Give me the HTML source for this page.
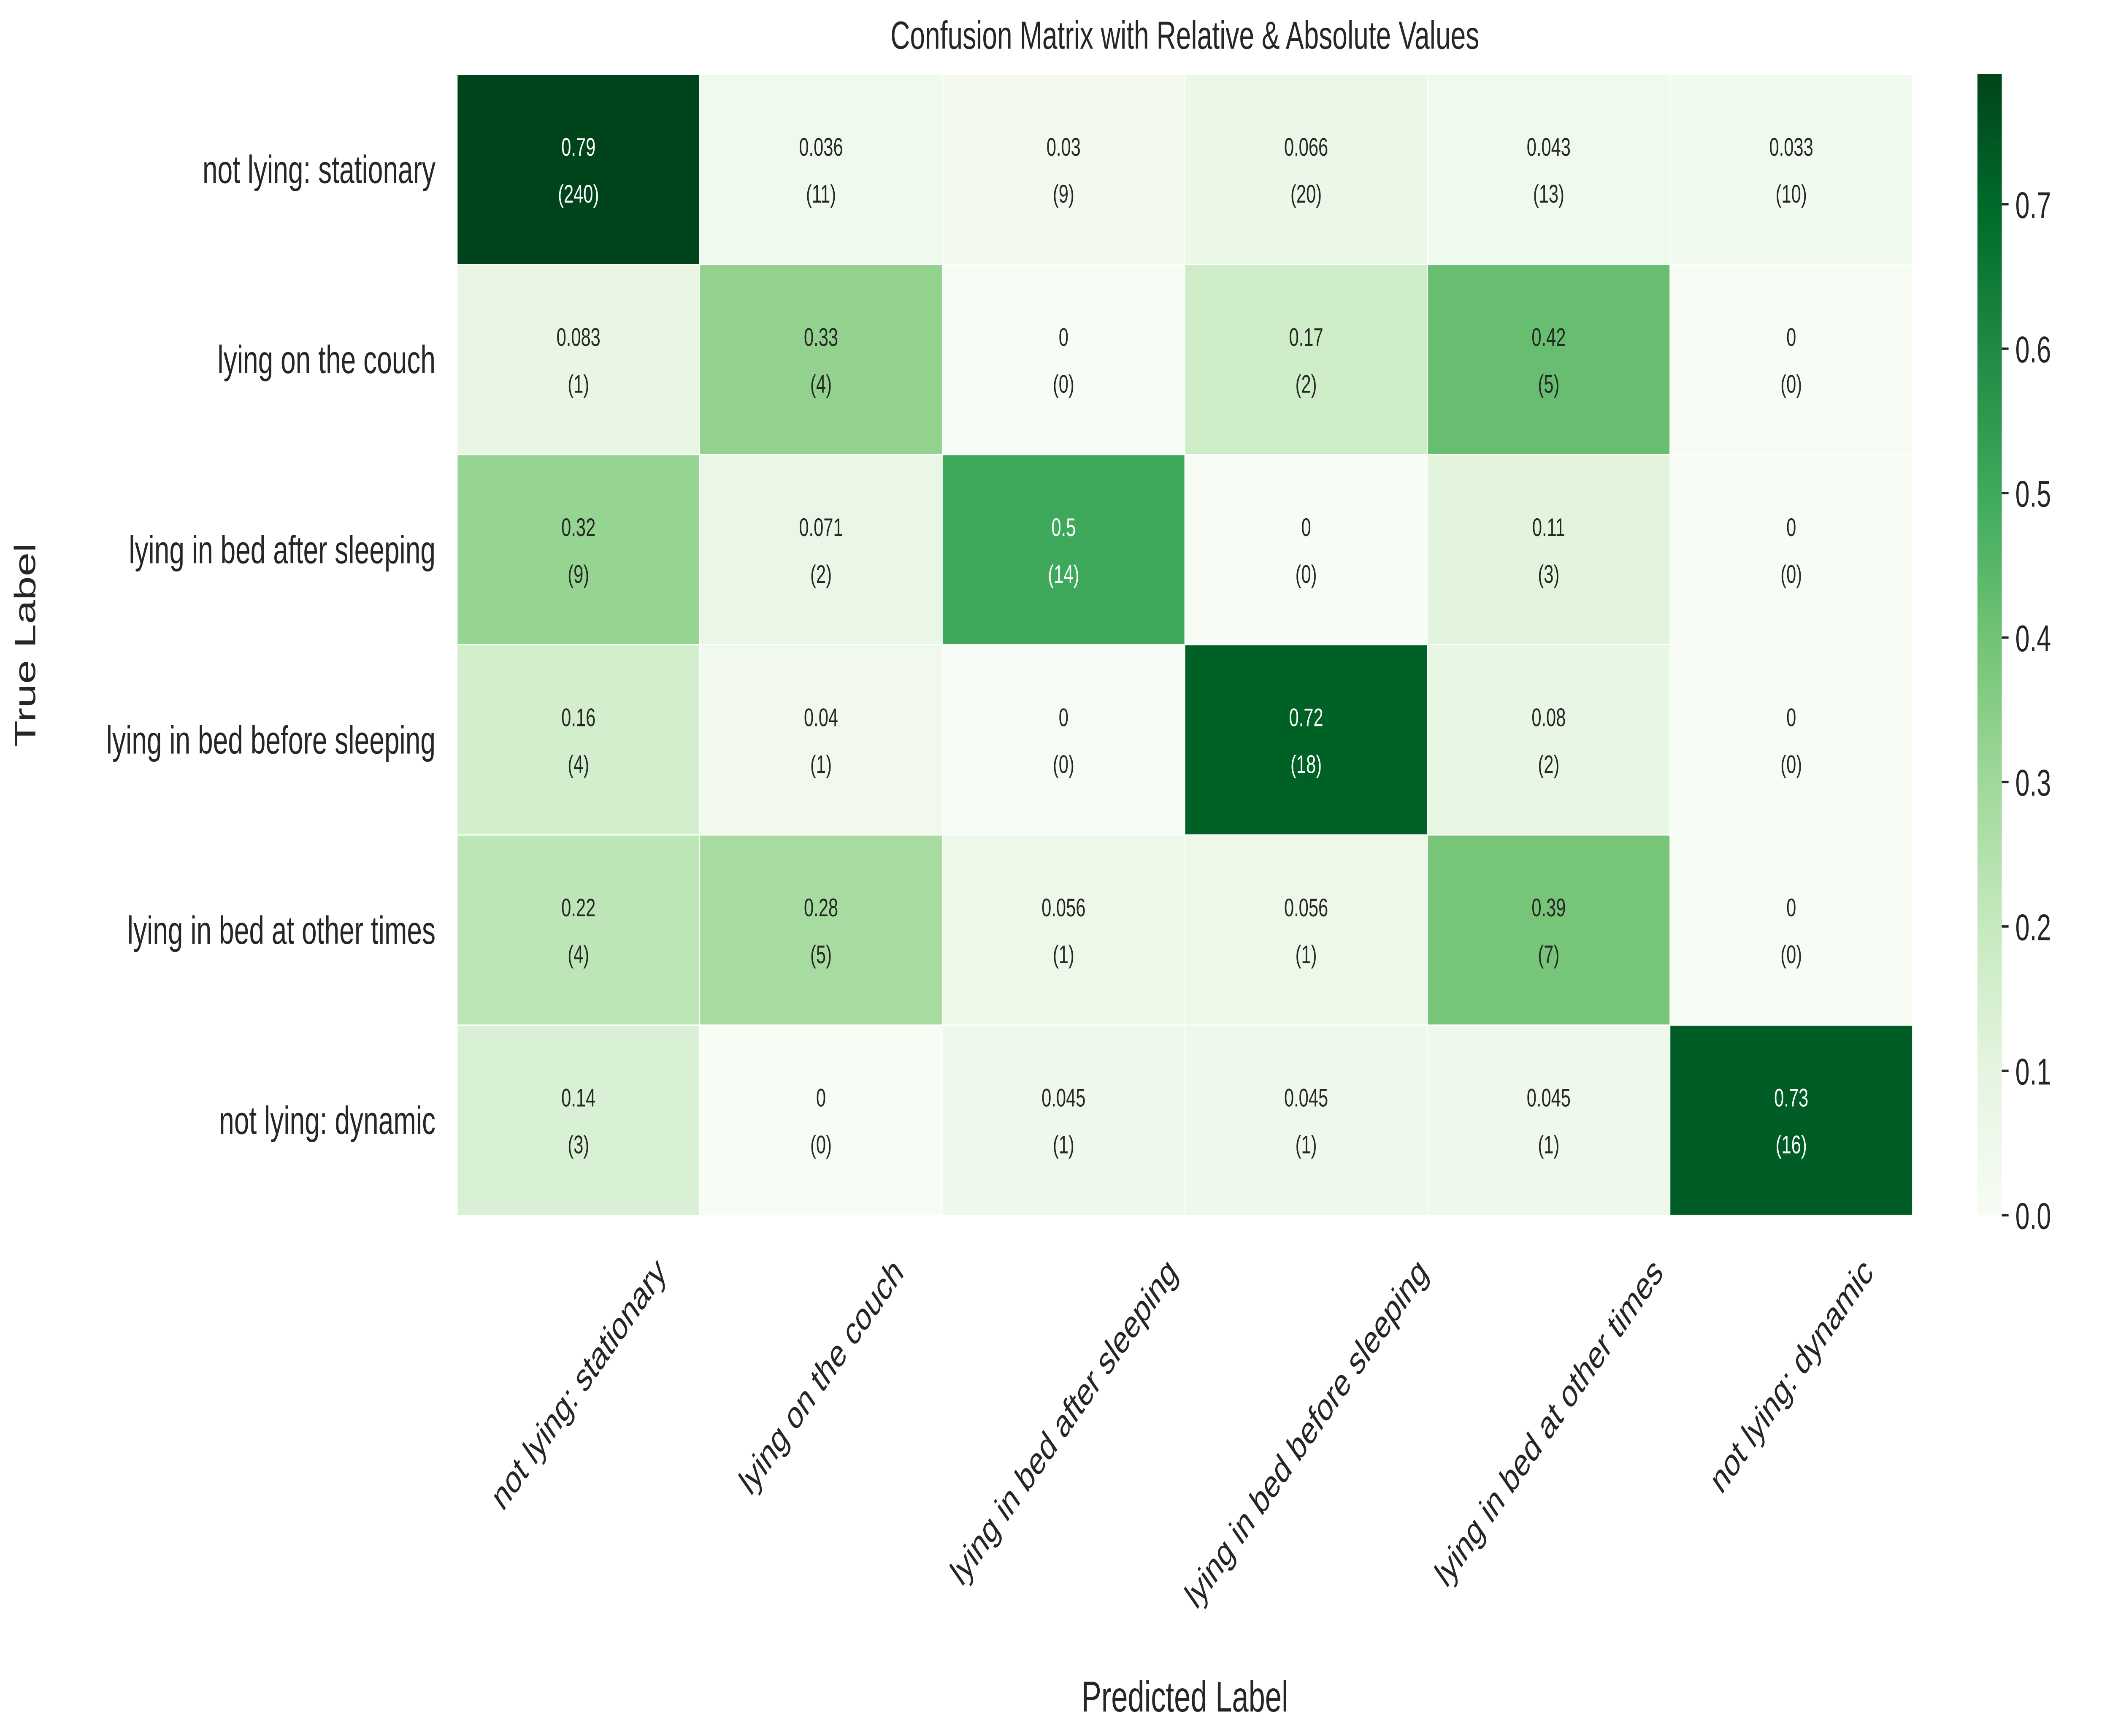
<!DOCTYPE html>
<html><head><meta charset="utf-8"><style>
html,body{margin:0;padding:0;background:#fff;width:100%;height:100%;overflow:hidden;}
svg{display:block;font-family:"Liberation Sans",Arial,sans-serif;position:absolute;left:0;top:0;width:100vw;height:100vh;}
</style></head><body>
<svg id="chart" viewBox="0 0 1560 888.5" preserveAspectRatio="none" xmlns="http://www.w3.org/2000/svg">
<defs><linearGradient id="cbgrad" x1="0" y1="1" x2="0" y2="0">
<stop offset="0" stop-color="#f7fcf5"/><stop offset="0.125" stop-color="#e5f5e0"/><stop offset="0.25" stop-color="#c7e9c0"/><stop offset="0.375" stop-color="#a1d99b"/><stop offset="0.5" stop-color="#74c476"/><stop offset="0.625" stop-color="#41ab5d"/><stop offset="0.75" stop-color="#238b45"/><stop offset="0.875" stop-color="#006d2c"/><stop offset="1" stop-color="#00441b"/></linearGradient></defs>
<text x="876" y="25" text-anchor="middle" font-size="20" fill="#262626">Confusion Matrix with Relative &amp; Absolute Values</text>
<g id="cells"></g>
<g id="ylabels"></g>
<g id="xlabels"></g>
<text transform="translate(26,330) rotate(-90)" text-anchor="middle" font-size="22" fill="#262626">True Label</text>
<text x="876" y="876" text-anchor="middle" font-size="22" fill="#262626">Predicted Label</text>
<rect x="1462" y="38" width="18" height="584" fill="url(#cbgrad)"/>
<g id="cbticks"></g>
</svg>
<script>
const categories = ["not lying: stationary","lying on the couch","lying in bed after sleeping","lying in bed before sleeping","lying in bed at other times","not lying: dynamic"];
const relValues = [
 [0.79,0.036,0.03,0.066,0.043,0.033],
 [0.083,0.33,0,0.17,0.42,0],
 [0.32,0.071,0.5,0,0.11,0],
 [0.16,0.04,0,0.72,0.08,0],
 [0.22,0.28,0.056,0.056,0.39,0],
 [0.14,0,0.045,0.045,0.045,0.73]];
const absValues = [
 [240,11,9,20,13,10],
 [1,4,0,2,5,0],
 [9,2,14,0,3,0],
 [4,1,0,18,2,0],
 [4,5,1,1,7,0],
 [3,0,1,1,1,16]];
const cbTicks = [0.0,0.1,0.2,0.3,0.4,0.5,0.6,0.7];

const NS="http://www.w3.org/2000/svg";
const X0=338,X1=1414,Y0=38,Y1=622;
let vmax=0; relValues.forEach(r=>r.forEach(v=>{if(v>vmax)vmax=v;}));
const cw=(X1-X0)/categories.length, ch=(Y1-Y0)/categories.length;
const xPos=i=>X0+i*cw, yPos=i=>Y0+i*ch, cbY=v=>Y1-(v/vmax)*(Y1-Y0);
const stops=["#f7fcf5","#e5f5e0","#c7e9c0","#a1d99b","#74c476","#41ab5d","#238b45","#006d2c","#00441b"].map(h=>[1,3,5].map(k=>parseInt(h.substr(k,2),16)));
function color(v){let t=Math.max(0,Math.min(1,v/vmax))*8;let i=Math.min(7,Math.floor(t));let f=t-i;
 const c=stops[i].map((a,k)=>Math.round(a+(stops[i+1][k]-a)*f));return `rgb(${c.join(',')})`;}
function mk(tag,attrs,parent,text){const e=document.createElementNS(NS,tag);for(const k in attrs)e.setAttribute(k,attrs[k]);if(text!==undefined)e.textContent=text;parent.appendChild(e);return e;}
const cells=document.getElementById('cells');
relValues.forEach((row,r)=>row.forEach((v,c)=>{
 const rect=mk('rect',{x:xPos(c),y:yPos(r),width:cw,height:ch,fill:color(v),stroke:'#fff','stroke-width':0.6},cells);
 
 
 const tc=(v/vmax)>0.6?'#fff':'#262626';
 const t1=mk('text',{x:xPos(c)+cw/2,y:yPos(r)+ch/2-7,'text-anchor':'middle','font-size':13,fill:tc},cells,String(v));
 
 
 const t2=mk('text',{x:xPos(c)+cw/2,y:yPos(r)+ch/2+17,'text-anchor':'middle','font-size':13,fill:tc},cells,'('+absValues[r][c]+')');
 
 
}));
const yl=document.getElementById('ylabels');
categories.forEach((c,i)=>{
 const t=mk('text',{x:322,y:yPos(i)+ch/2+7,'text-anchor':'end','font-size':20,fill:'#262626'},yl,c);
 
 
});
const xl=document.getElementById('xlabels');
categories.forEach((c,i)=>{
 const t=mk('text',{'text-anchor':'middle','font-size':20,fill:'#262626'},xl,c);
 
 
 const w=t.getComputedTextLength(), h=15;
 const cx=xPos(i)+cw/2, cy=642+(w+h)/(2*Math.SQRT2);
 t.setAttribute('transform',`translate(${cx},${cy}) rotate(-45) translate(0,7)`);
});
const cb=document.getElementById('cbticks');
cbTicks.forEach(v=>{
 const l=mk('line',{x1:1480,x2:1485,y1:cbY(v),y2:cbY(v),stroke:'#262626','stroke-width':1.2},cb);
 
 
 const t=mk('text',{x:1490,y:cbY(v)+7,'font-size':19,fill:'#262626'},cb,v.toFixed(1));
 
 
});
</script>
</body></html>
